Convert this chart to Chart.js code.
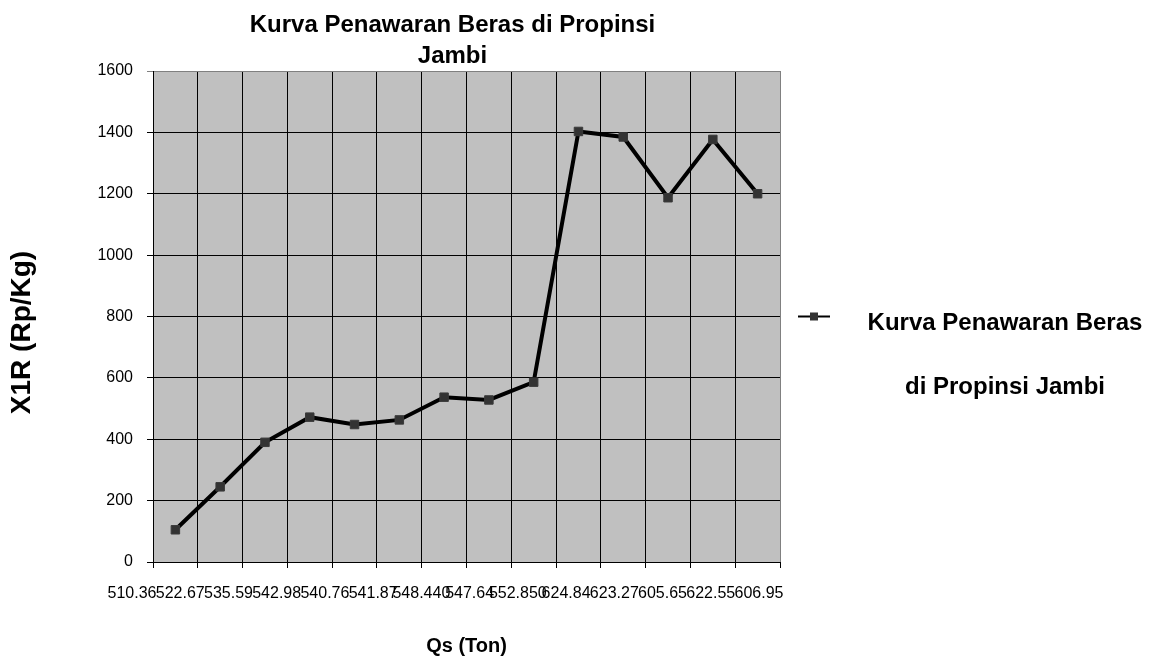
<!DOCTYPE html>
<html>
<head>
<meta charset="utf-8">
<script src="https://cdn.jsdelivr.net/npm/chart.js@4"></script>
<style>
  html, body { margin: 0; padding: 0; background: #fff; }
  #wrap { width: 1151px; height: 662px; position: relative; }
</style>
</head>
<body>
<div id="wrap"><canvas id="myChart"></canvas></div>
<script>
// data
const qsLabels = ['510.36', '522.67', '535.59', '542.98', '540.76', '541.87', '548.440',
  '547.64', '552.850', '624.84', '623.27', '605.65', '622.55', '606.95'];
const hargaValues = [105, 245, 390, 472, 448, 463, 537, 528, 586, 1403, 1385, 1187, 1377, 1200];
const yTicks = [0, 200, 400, 600, 800, 1000, 1200, 1400, 1600];

const titleLines = ['Kurva Penawaran Beras di Propinsi', 'Jambi'];
const legendLines = ['Kurva Penawaran Beras', 'di Propinsi Jambi'];
const xTitle = 'Qs (Ton)';
const yTitle = 'X1R (Rp/Kg)';

const FONT = '"Liberation Sans", Arial, sans-serif';
Chart.defaults.font.family = FONT;
Chart.defaults.color = '#000';

// grey plot area + white page
const plotBg = {
  id: 'plotBg',
  beforeDraw(chart) {
    const { ctx, chartArea: a } = chart;
    ctx.save();
    ctx.fillStyle = '#fff';
    ctx.fillRect(0, 0, chart.width, chart.height);
    ctx.fillStyle = '#c0c0c0';
    ctx.fillRect(a.left, a.top, a.right - a.left, a.bottom - a.top);
    ctx.restore();
  }
};

// titles: the chart title sits a bit left of the plot centre and the
// y title a bit below it, like the original
const titles = {
  id: 'titles',
  afterDraw(chart) {
    const { ctx, chartArea: a } = chart;
    const cx = (a.left + a.right) / 2 - 14;
    ctx.save();
    ctx.font = 'bold 24px ' + FONT;
    ctx.fillStyle = '#000';
    ctx.textAlign = 'center';
    ctx.textBaseline = 'alphabetic';
    ctx.fillText(titleLines[0], cx, 32);
    ctx.fillText(titleLines[1], cx, 63);

    ctx.translate(22, (a.top + a.bottom) / 2 + 16);
    ctx.rotate(-Math.PI / 2);
    ctx.font = 'bold 28px ' + FONT;
    ctx.textBaseline = 'middle';
    ctx.fillText(yTitle, 0, 0);
    ctx.restore();
  }
};

// legend on the right: line with square marker and two centred lines of text
const sideLegend = {
  id: 'sideLegend',
  afterDraw(chart) {
    const { ctx, chartArea: a } = chart;
    const ds = chart.data.datasets[0];
    const y = (a.top + a.bottom) / 2;
    const x0 = a.right + 18;
    ctx.save();
    ctx.strokeStyle = ds.borderColor;
    ctx.lineWidth = 2;
    ctx.beginPath();
    ctx.moveTo(x0, y);
    ctx.lineTo(x0 + 32, y);
    ctx.stroke();
    ctx.fillStyle = ds.pointBackgroundColor;
    ctx.fillRect(x0 + 12, y - 4, 8, 8);
    ctx.font = 'bold 24px ' + FONT;
    ctx.fillStyle = '#000';
    ctx.textAlign = 'center';
    ctx.fillText(legendLines[0], a.right + 225, y + 13);
    ctx.fillText(legendLines[1], a.right + 225, y + 77);
    ctx.restore();
  }
};

const edgeColor = (c) => (c.tick ? '#000' : '#808080');

const config = {
  type: 'line',
  data: {
    labels: qsLabels,
    datasets: [{
      label: legendLines.join(' '),
      data: hargaValues,
      xAxisID: 'x',
      borderColor: '#000',
      borderWidth: 4,
      tension: 0,
      pointStyle: 'rect',
      pointRadius: 6,
      pointHoverRadius: 6,
      pointBackgroundColor: '#333333',
      pointBorderColor: '#3a3a3a',
      pointBorderWidth: 1
    }]
  },
  options: {
    responsive: true,
    maintainAspectRatio: false,
    animation: false,
    layout: { padding: { left: 0, top: 71, right: 371, bottom: 0 } },
    plugins: {
      legend: { display: false },
      title: { display: false },
      tooltip: { enabled: false }
    },
    scales: {
      x: {
        type: 'category',
        position: 'bottom',
        weight: 0,
        offset: true,
        grid: {
          offset: true,
          color: edgeColor,
          tickColor: '#000',
          lineWidth: 1,
          tickLength: 6
        },
        border: { color: '#000', width: 1 },
        ticks: { display: false }
      },
      x2: {
        type: 'category',
        labels: qsLabels,
        position: 'bottom',
        weight: 1,
        offset: false,
        grid: { display: false },
        border: { display: false },
        ticks: {
          autoSkip: false,
          maxRotation: 0,
          minRotation: 0,
          labelOffset: -21,
          padding: 8,
          font: { size: 16 }
        },
        title: {
          display: true,
          text: xTitle,
          font: { size: 20, weight: 'bold' },
          padding: { top: 0, bottom: 4 }
        },
        afterFit(scale) { scale.height = 94; }
      },
      y: {
        min: yTicks[0],
        max: yTicks[yTicks.length - 1],
        afterBuildTicks(scale) { scale.ticks = yTicks.map(v => ({ value: v })); },
        grid: {
          color: (c) => (c.tick && c.tick.value === yTicks[yTicks.length - 1] ? '#808080' : '#000'),
          lineWidth: 1,
          tickLength: 6
        },
        border: { color: '#000', width: 1 },
        ticks: {
          padding: 14,
          font: { size: 16 },
          callback: (v) => String(v)
        },
        afterFit(scale) { scale.width = 153; }
      }
    }
  },
  plugins: [plotBg, titles, sideLegend]
};

const ctx = document.getElementById('myChart');
const myChart = new Chart(ctx, config);
</script>
</body>
</html>
